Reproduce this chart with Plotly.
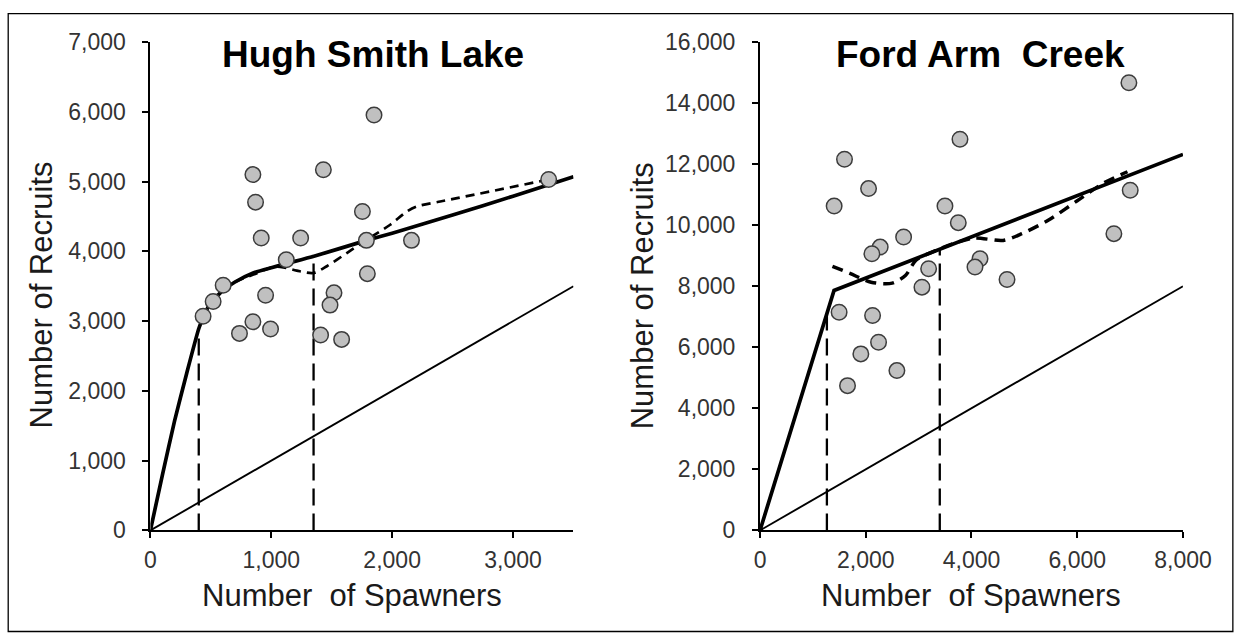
import plotly.graph_objects as go

# figure size; the photographed page is rendered slightly reduced, so the
# figure is a little larger than the target picture and positions are mapped
FW, FH = 1264, 646
SX, OX = 0.971, 6.3
SY, OY = 0.959, 12.5

# ---------------- data: Hugh Smith Lake ----------------
hsl_spawners = [1850, 848, 1431, 870, 1754, 917, 1243, 1787, 2160, 1124, 1795, 602,
                519, 436, 953, 1519, 1486, 848, 737, 994, 1408, 1582, 3295]
hsl_recruits = [5955, 5100, 5170, 4705, 4570, 4190, 4190, 4157, 4157, 3880, 3680, 3514,
                3280, 3070, 3370, 3405, 3229, 2990, 2824, 2886, 2800, 2738, 5029]
hsl_fit_x = [0, 100, 200, 300, 400, 450, 500, 600, 700, 850, 1000, 1124, 1353,
             1787, 2000, 2500, 3000, 3500]
hsl_fit_y = [0, 800, 1570, 2250, 2890, 3110, 3260, 3440, 3560, 3690, 3765, 3824,
             3929, 4157, 4260, 4520, 4790, 5070]
hsl_smooth_x = [600, 700, 852, 1017, 1100, 1211, 1349, 1460, 1625, 1791, 1984, 2122,
                2205, 2398, 2537, 3282]
hsl_smooth_y = [3440, 3560, 3667, 3776, 3771, 3724, 3690, 3786, 3976, 4167, 4381, 4571,
                4643, 4714, 4762, 5024]
hsl_ref_x = [400, 1350]
hsl_ref_top = [2890, 3930]
hsl_replace = [0, 3500]

# ---------------- data: Ford Arm Creek ----------------
fac_spawners = [3782, 1598, 2053, 1402, 3498, 3750, 2716, 2273, 2116, 3189, 3063, 4161,
                4066, 4672, 1496, 2129, 2242, 1907, 2589, 1655, 6977, 7002, 6693]
fac_recruits = [12816, 12160, 11198, 10627, 10627, 10082, 9610, 9282, 9063, 8572, 7969,
                8900, 8626, 8222, 7149, 7040, 6165, 5783, 5235, 4743, 14664, 11142, 9722]
fac_fit_x = [0, 1400, 8000]
fac_fit_y = [0, 7860, 12320]
fac_smooth_x = [1370, 1700, 2100, 2500, 2750, 2950, 3300, 3700, 4050, 4600, 4950, 5450,
                6000, 6500, 6950]
fac_smooth_y = [8650, 8420, 8130, 8100, 8350, 8850, 9150, 9420, 9580, 9500, 9720, 10160,
                10800, 11380, 11750]
fac_ref_x = [1265, 3400]
fac_ref_top = [7100, 9200]
fac_replace = [0, 8000]

titles = ["Hugh Smith Lake", "Ford Arm  Creek"]
x_title = "Number  of Spawners"
y_title = "Number of Recruits"


def px(t):
    """target picture pixel -> paper x"""
    return max(0.0, min(1.0, ((t - OX) / SX) / FW))


def py(t):
    """target picture pixel -> paper y"""
    return max(0.0, min(1.0, 1 - ((t - OY) / SY) / FH))


fig = go.Figure()

panels = [
    dict(xa="x", ya="y", sx=hsl_spawners, sy=hsl_recruits, fx=hsl_fit_x, fy=hsl_fit_y,
         fshape="spline", smx=hsl_smooth_x, smy=hsl_smooth_y, rx=hsl_ref_x, rt=hsl_ref_top,
         rep=hsl_replace, smw=2.7, smdash="9px,6px"),
    dict(xa="x2", ya="y2", sx=fac_spawners, sy=fac_recruits, fx=fac_fit_x, fy=fac_fit_y,
         fshape="linear", smx=fac_smooth_x, smy=fac_smooth_y, rx=fac_ref_x, rt=fac_ref_top,
         rep=fac_replace, smw=3.5, smdash="11px,7px"),
]

for p in panels:
    fig.add_trace(go.Scatter(x=p["rep"], y=p["rep"], xaxis=p["xa"], yaxis=p["ya"],
                             mode="lines", line=dict(color="black", width=1.9),
                             hoverinfo="skip"))
    for xv, top in zip(p["rx"], p["rt"]):
        fig.add_trace(go.Scatter(x=[xv, xv], y=[0, top], xaxis=p["xa"], yaxis=p["ya"],
                                 mode="lines",
                                 line=dict(color="black", width=2.3, dash="17px,8px"),
                                 hoverinfo="skip"))
    fline = dict(color="black", width=3.7, shape=p["fshape"])
    if p["fshape"] == "spline":
        fline["smoothing"] = 0.5
    fig.add_trace(go.Scatter(x=p["fx"], y=p["fy"], xaxis=p["xa"], yaxis=p["ya"],
                             mode="lines", line=fline, hoverinfo="skip"))
    fig.add_trace(go.Scatter(x=p["smx"], y=p["smy"], xaxis=p["xa"], yaxis=p["ya"],
                             mode="lines",
                             line=dict(color="black", width=p["smw"], dash=p["smdash"],
                                       shape="spline", smoothing=0.8),
                             hoverinfo="skip"))
    fig.add_trace(go.Scatter(x=p["sx"], y=p["sy"], xaxis=p["xa"], yaxis=p["ya"],
                             mode="markers",
                             marker=dict(size=15.5, color="#c0c0c0",
                                         line=dict(color="#3c3c3c", width=1.5))))

tickfont = dict(family="Liberation Sans, Arial, sans-serif", size=23, color="#333333")
axis_common = dict(showgrid=False, zeroline=False, showline=True, linecolor="black",
                   linewidth=2, ticks="outside", ticklen=6, tickwidth=2, tickcolor="black",
                   tickfont=tickfont, tickformat=",d", fixedrange=True)

ydom = [py(529.5), py(41.5)]
fig.update_layout(
    width=FW, height=FH,
    margin=dict(l=0, r=0, t=0, b=0),
    paper_bgcolor="white", plot_bgcolor="white",
    showlegend=False,
    separators=".,",
    xaxis=dict(domain=[px(150.5), px(573)], range=[0, 3500], tickvals=[0, 1000, 2000, 3000],
               anchor="y", ticklabelstandoff=2, **axis_common),
    yaxis=dict(domain=ydom, range=[0, 7000], dtick=1000, anchor="x",
               ticklabelstandoff=12, **axis_common),
    xaxis2=dict(domain=[px(759.3), px(1181.7)], range=[0, 8000], dtick=2000,
                anchor="y2", ticklabelstandoff=2, **axis_common),
    yaxis2=dict(domain=ydom, range=[0, 16000], dtick=2000, anchor="x2",
                ticklabelstandoff=12, **axis_common),
)

title_font = dict(family="Liberation Sans, Arial, sans-serif", size=37, color="black")
label_font = dict(family="Liberation Sans, Arial, sans-serif", size=31, color="#1a1a1a")

annots = [
    dict(text="<b>" + titles[0] + "</b>", x=px(372.5), y=py(54), font=title_font),
    dict(text="<b>" + titles[1] + "</b>", x=px(979), y=py(54), font=title_font),
    dict(text=x_title, x=px(352), y=py(595), font=label_font),
    dict(text=x_title, x=px(970), y=py(595), font=label_font),
    dict(text=y_title, x=px(42), y=py(294), font=label_font, textangle=-90),
    dict(text=y_title, x=px(642), y=py(295), font=label_font, textangle=-90),
]
for a in annots:
    fig.add_annotation(xref="paper", yref="paper", xanchor="center", yanchor="middle",
                       showarrow=False, **a)

fig.add_shape(type="rect", xref="paper", yref="paper", x0=px(8.5), x1=px(1231.5),
              y0=py(630.5), y1=0.999, line=dict(color="black", width=1.3))

fig.write_html("out.html", config={"displayModeBar": False})
